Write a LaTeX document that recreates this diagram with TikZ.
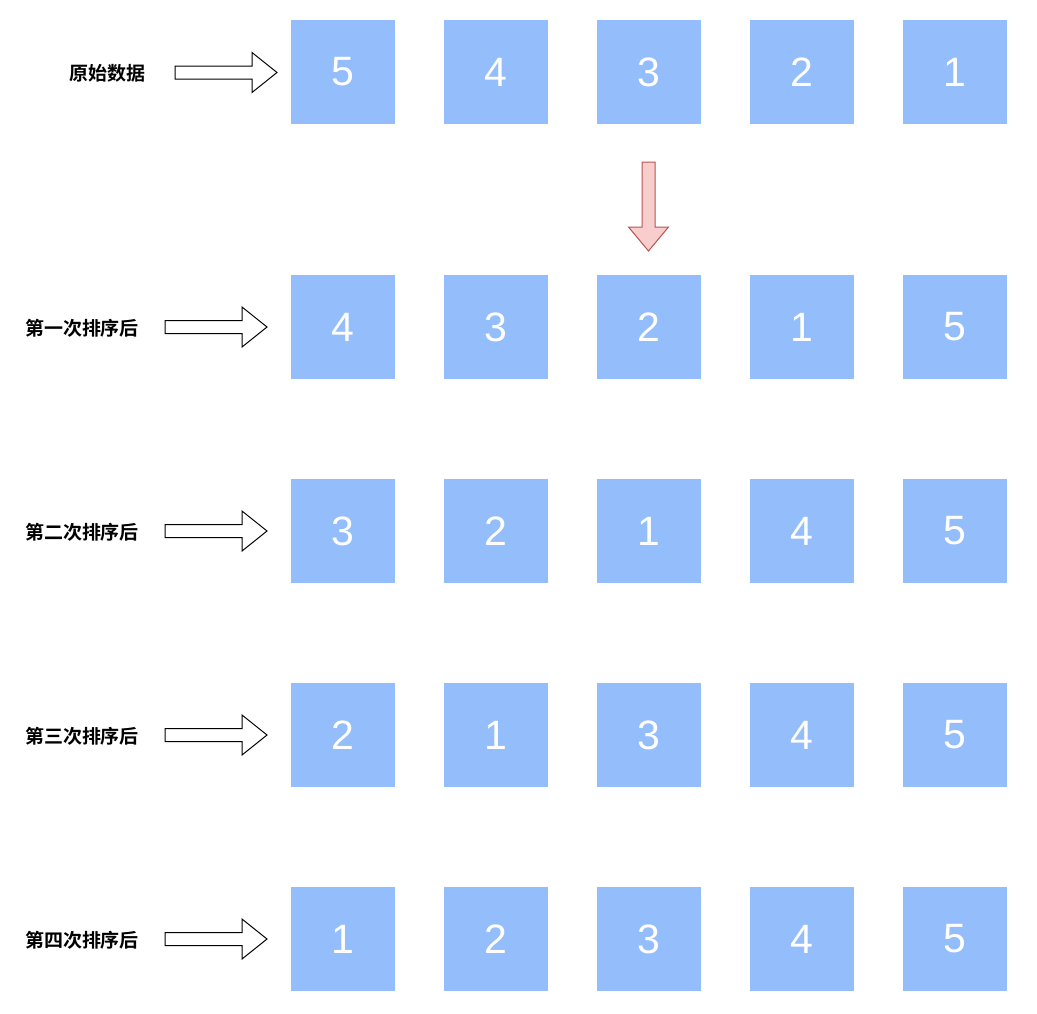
\documentclass[tikz,border=0pt]{standalone}
\usepackage{fontspec}
\setmainfont{Liberation Sans}
\newfontfamily\cjk{Noto Sans CJK SC}[BoldFont={Noto Sans CJK SC Bold}]
\definecolor{boxblue}{RGB}{148,189,251}
\definecolor{redfill}{HTML}{F8CECC}
\definecolor{redline}{HTML}{B85450}
\tikzset{
  cell/.style={rectangle, fill=boxblue, draw=none, minimum width=104pt, minimum height=104pt, inner sep=0pt,
    text=white, font=\fontsize{41}{48}\selectfont},
  rowlabel/.style={font=\cjk\bfseries\fontsize{19}{23}\selectfont, inner sep=0pt, text=black},
  hollow/.style={draw=black, fill=white, line width=1pt, line join=miter},
}
\begin{document}
\begin{tikzpicture}[x=1pt,y=-1pt]
\useasboundingbox (0,0) rectangle (1037,1013);
% rows
\foreach \r/\yy/\vals in {0/72/{5,4,3,2,1},1/327/{4,3,2,1,5},2/531/{3,2,1,4,5},3/735/{2,1,3,4,5},4/939/{1,2,3,4,5}}{
  \foreach \v [count=\c] in \vals {
    \pgfmathsetmacro{\xx}{343+(\c-1)*153}
    \node[cell] (b\r\c) at (\xx,\yy) {\v};
  }
}
% labels
\node[rowlabel] (l0) at (107.5,73) {原始数据};
\node[rowlabel] (l1) at (82,328) {第一次排序后};
\node[rowlabel] (l2) at (82,532) {第二次排序后};
\node[rowlabel] (l3) at (82,736) {第三次排序后};
\node[rowlabel] (l4) at (82,940) {第四次排序后};
% hollow block arrows
\foreach \n/\ax/\ay in {0/175/72.5,1/165/327,2/165/531,3/165/735,4/165/939}{
  \coordinate (a\n) at (\ax,\ay);
  \draw[hollow] (a\n) ++(0,-6.5) -- ++(77,0) -- ++(0,-13.5) -- ++(25,20) -- ++(-25,20) -- ++(0,-13.5) -- ++(-77,0) -- cycle;
}
% red down arrow
\coordinate (ra) at (648.5,162);
\draw[draw=redline, fill=redfill, line width=1pt, line join=miter] (ra) ++(-6.5,0) -- ++(13,0) -- ++(0,65) -- ++(13.5,0) -- ++(-20,24) -- ++(-20,-24) -- ++(13.5,0) -- cycle;
\end{tikzpicture}
\end{document}
